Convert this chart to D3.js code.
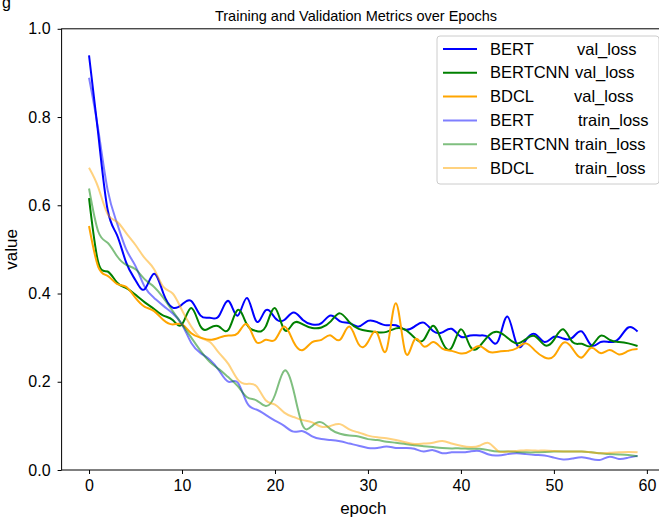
<!DOCTYPE html>
<html>
<head>
<meta charset="utf-8">
<script src="https://cdn.jsdelivr.net/npm/d3@7"></script>
<style>
  body { margin: 0; background: #fff; }
  svg { display: block; font-family: "Liberation Sans", Arial, sans-serif; }
</style>
</head>
<body>
<svg id="chart" width="659" height="519"></svg>
<script>
// epochs 0..59
const epochs = d3.range(0, 60);
const xTicks = [0, 10, 20, 30, 40, 50, 60];
const yTicks = [0.0, 0.2, 0.4, 0.6, 0.8, 1.0];

const modelNames = ["BERT", "BERTCNN", "BDCL"];

const bertVal = [0.94, 0.76, 0.59, 0.533, 0.47, 0.43, 0.41, 0.445, 0.40, 0.368,
  0.375, 0.383, 0.35, 0.345, 0.35, 0.383, 0.35, 0.39, 0.337, 0.362,
  0.345, 0.34, 0.357, 0.34, 0.33, 0.333, 0.35, 0.337, 0.333, 0.325,
  0.338, 0.335, 0.328, 0.328, 0.318, 0.325, 0.334, 0.315, 0.312, 0.32,
  0.302, 0.305, 0.305, 0.30, 0.292, 0.348, 0.285, 0.295, 0.308, 0.29,
  0.302, 0.298, 0.30, 0.314, 0.283, 0.29, 0.29, 0.298, 0.323, 0.314];

const bertcnnVal = [0.616, 0.47, 0.45, 0.425, 0.412, 0.397, 0.38, 0.365, 0.35, 0.34,
  0.33, 0.367, 0.325, 0.322, 0.325, 0.318, 0.363, 0.329, 0.315, 0.325,
  0.367, 0.318, 0.333, 0.33, 0.322, 0.323, 0.337, 0.355, 0.335, 0.32,
  0.315, 0.312, 0.313, 0.321, 0.318, 0.30, 0.295, 0.327, 0.29, 0.277,
  0.319, 0.28, 0.28, 0.305, 0.313, 0.30, 0.287, 0.297, 0.303, 0.283,
  0.295, 0.319, 0.29, 0.286, 0.281, 0.304, 0.295, 0.29, 0.287, 0.281];

const bdclVal = [0.553, 0.46, 0.44, 0.422, 0.415, 0.39, 0.37, 0.36, 0.34, 0.33,
  0.33, 0.31, 0.30, 0.295, 0.30, 0.305, 0.31, 0.33, 0.29, 0.295,
  0.295, 0.325, 0.29, 0.272, 0.29, 0.295, 0.305, 0.295, 0.325, 0.285,
  0.29, 0.31, 0.272, 0.378, 0.268, 0.295, 0.28, 0.29, 0.275, 0.27,
  0.264, 0.27, 0.281, 0.268, 0.268, 0.27, 0.276, 0.287, 0.27, 0.255,
  0.258, 0.288, 0.275, 0.255, 0.277, 0.265, 0.272, 0.262, 0.27, 0.274];

const bertTrain = [0.889, 0.77, 0.635, 0.56, 0.50, 0.462, 0.415, 0.39, 0.372, 0.355,
  0.33, 0.288, 0.265, 0.25, 0.225, 0.20, 0.198, 0.152, 0.137, 0.125,
  0.112, 0.10, 0.087, 0.088, 0.076, 0.07, 0.068, 0.065, 0.06, 0.055,
  0.05, 0.05, 0.053, 0.05, 0.05, 0.048, 0.042, 0.045, 0.038, 0.04,
  0.04, 0.042, 0.043, 0.035, 0.033, 0.036, 0.038, 0.036, 0.034, 0.033,
  0.028, 0.024, 0.026, 0.029, 0.025, 0.023, 0.03, 0.025, 0.028, 0.032];

const bertcnnTrain = [0.638, 0.54, 0.515, 0.485, 0.465, 0.455, 0.432, 0.415, 0.39, 0.36,
  0.33, 0.30, 0.27, 0.245, 0.228, 0.21, 0.19, 0.165, 0.158, 0.145,
  0.17, 0.225, 0.18, 0.10, 0.10, 0.108, 0.092, 0.082, 0.078, 0.076,
  0.07, 0.068, 0.064, 0.062, 0.059, 0.056, 0.054, 0.052, 0.05, 0.049,
  0.049, 0.048, 0.048, 0.045, 0.042, 0.042, 0.041, 0.04, 0.04, 0.041,
  0.042, 0.042, 0.042, 0.042, 0.04, 0.038, 0.036, 0.035, 0.034, 0.031];

const bdclTrain = [0.685, 0.64, 0.58, 0.563, 0.537, 0.51, 0.48, 0.455, 0.415, 0.40,
  0.362, 0.325, 0.30, 0.29, 0.265, 0.24, 0.205, 0.195, 0.19, 0.158,
  0.148, 0.13, 0.12, 0.113, 0.108, 0.098, 0.10, 0.104, 0.092, 0.085,
  0.078, 0.074, 0.072, 0.068, 0.063, 0.059, 0.06, 0.062, 0.066, 0.06,
  0.055, 0.052, 0.055, 0.061, 0.043, 0.042, 0.043, 0.045, 0.044, 0.044,
  0.043, 0.042, 0.042, 0.042, 0.04, 0.038, 0.039, 0.04, 0.041, 0.04];

const colors = ["#0000ff", "#008000", "#ffa500"];

const series = [
  { model: modelNames[0], metric: "val_loss", values: bertVal, color: colors[0], opacity: 1 },
  { model: modelNames[1], metric: "val_loss", values: bertcnnVal, color: colors[1], opacity: 1 },
  { model: modelNames[2], metric: "val_loss", values: bdclVal, color: colors[2], opacity: 1 },
  { model: modelNames[0], metric: "train_loss", values: bertTrain, color: colors[0], opacity: 0.5 },
  { model: modelNames[1], metric: "train_loss", values: bertcnnTrain, color: colors[1], opacity: 0.5 },
  { model: modelNames[2], metric: "train_loss", values: bdclTrain, color: colors[2], opacity: 0.5 },
];

const svg = d3.select("#chart");
const plotLeft = 61.6, plotRight = 665, plotTop = 28.8, plotBottom = 470;

const x = d3.scaleLinear().domain([-2.95, 61.95]).range([plotLeft, plotRight]);
const y = d3.scaleLinear().domain([0, 1]).range([plotBottom, plotTop]);

// stray fragment at the top-left of the crop
svg.append("text").attr("x", 2).attr("y", 8).attr("font-size", 16).text("g");

svg.append("defs").append("clipPath").attr("id", "plotClip")
  .append("rect").attr("x", plotLeft).attr("y", plotTop)
  .attr("width", plotRight - plotLeft).attr("height", plotBottom - plotTop);

const line = d3.line()
  .x((d, i) => x(epochs[i]))
  .y((d) => y(d))
  .curve(d3.curveNatural);

const plot = svg.append("g").attr("clip-path", "url(#plotClip)");
series.forEach((s) => {
  plot.append("path")
    .attr("fill", "none")
    .attr("stroke", s.color)
    .attr("stroke-opacity", s.opacity)
    .attr("stroke-width", 2)
    .attr("d", line(s.values));
});

// axes
const xAxis = svg.append("g")
  .attr("transform", `translate(0,${plotBottom})`)
  .call(d3.axisBottom(x).tickValues(xTicks).tickFormat(d3.format("d")).tickSize(4).tickPadding(6));
const yAxis = svg.append("g")
  .attr("transform", `translate(${plotLeft},0)`)
  .call(d3.axisLeft(y).tickValues(yTicks).tickFormat(d3.format(".1f")).tickSize(4).tickPadding(7));

[xAxis, yAxis].forEach((g) => {
  g.select(".domain").remove();
  g.selectAll("line").attr("stroke", "#000").attr("stroke-width", 1);
  g.selectAll("text")
    .attr("fill", "#000")
    .attr("font-size", 16)
    .attr("font-family", "Liberation Sans, Arial, sans-serif");
});

svg.append("rect")
  .attr("x", plotLeft).attr("y", plotTop)
  .attr("width", plotRight - plotLeft).attr("height", plotBottom - plotTop)
  .attr("fill", "none").attr("stroke", "#000").attr("stroke-width", 1);

// titles
svg.append("text")
  .attr("x", 356).attr("y", 21)
  .attr("text-anchor", "middle").attr("font-size", 14.5)
  .text("Training and Validation Metrics over Epochs");

svg.append("text")
  .attr("x", (plotLeft + plotRight) / 2).attr("y", 514)
  .attr("text-anchor", "middle").attr("font-size", 17)
  .text("epoch");

svg.append("text")
  .attr("transform", `translate(17,${(plotTop + plotBottom) / 2}) rotate(-90)`)
  .attr("text-anchor", "middle").attr("font-size", 17)
  .text("value");

// legend
const legend = svg.append("g");
legend.append("rect")
  .attr("x", 437).attr("y", 36).attr("width", 222).attr("height", 148)
  .attr("rx", 3).attr("fill", "#fff").attr("fill-opacity", 0.8)
  .attr("stroke", "#cccccc").attr("stroke-width", 1);

const metricX = [577, 575, 574, 578, 575, 575];
series.forEach((s, i) => {
  const cy = 49 + i * 23.8;
  legend.append("line")
    .attr("x1", 443).attr("x2", 477).attr("y1", cy).attr("y2", cy)
    .attr("stroke", s.color).attr("stroke-opacity", s.opacity).attr("stroke-width", 2);
  const t = legend.append("text").attr("y", cy + 5.5).attr("font-size", 16.5);
  t.append("tspan").attr("x", 490).text(s.model);
  t.append("tspan").attr("x", metricX[i]).text(s.metric);
});
</script>
</body>
</html>
